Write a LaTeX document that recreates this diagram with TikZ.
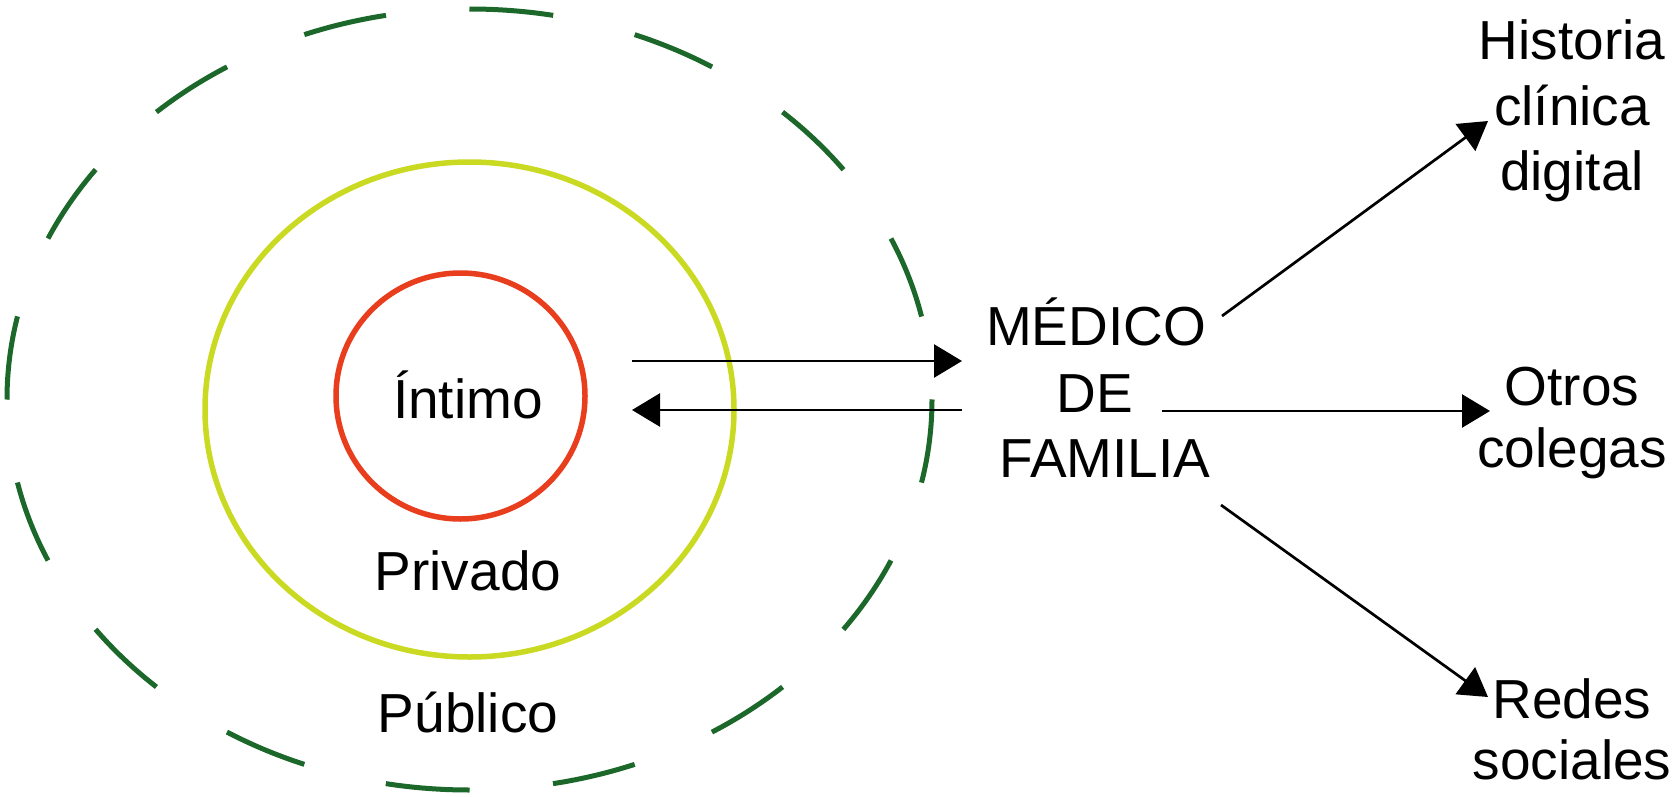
\documentclass[tikz,border=0pt]{standalone}
\usepackage{fontspec}
\setmainfont{Liberation Sans}
\usetikzlibrary{arrows.meta}
\definecolor{ringred}{RGB}{232,62,30}
\definecolor{ringyellow}{RGB}{202,218,34}
\definecolor{ringgreen}{RGB}{28,104,42}
\begin{document}
\begin{tikzpicture}[x=1pt,y=-1pt,
  lbl/.style={font=\fontsize{55}{64}\selectfont, inner sep=0pt, anchor=base},
  ring/.style={line width=5.5pt},
  conn/.style={line width=2.7pt, -{Triangle[length=28pt,width=33pt]}}]
\useasboundingbox (0,0) rectangle (1675,797);
% rings
\foreach \a in {0,90,180,270}
  \draw[line width=5pt, ringgreen, dash pattern=on 84pt off 83.8pt]
    (469.5,399.5) ++(\a:462.5 and 390.5)
    arc[start angle=\a, delta angle=90, x radius=462.5, y radius=390.5];
\draw[ring, ringyellow] (469.5,409.5) ellipse (264.5 and 247.5);
\draw[ring, ringred] (460.5,396) ellipse (124.5 and 123);
% labels
\node[lbl] (intimo) at (468,418) {Íntimo};
\node[lbl] (privado) at (468,590) {Privado};
\node[lbl] (publico) at (468,732) {Público};
\node[lbl] (med1) at (1096,345) {MÉDICO};
\node[lbl] (med2) at (1095,412) {DE};
\node[lbl] (med3) at (1105,477) {FAMILIA};
\node[lbl] (hist1) at (1572,60) {Historia};
\node[lbl] (hist2) at (1572,125) {clínica};
\node[lbl] (hist3) at (1572,190) {digital};
\node[lbl] (otros1) at (1572,405) {Otros};
\node[lbl] (otros2) at (1572,467) {colegas};
\node[lbl] (redes1) at (1572,718) {Redes};
\node[lbl] (redes2) at (1572,779) {sociales};
% connector ends
\coordinate (inA) at (632,361);
\coordinate (medA) at (962,361);
\coordinate (medB) at (962,410);
\coordinate (inB) at (632,410);
\coordinate (mUp) at (1222,316);
\coordinate (hTip) at (1488,121);
\coordinate (mMid) at (1162,411);
\coordinate (oTip) at (1490,411);
\coordinate (mDn) at (1221,505);
\coordinate (rTip) at (1488,697);
% connectors
\draw[conn] (inA) -- (medA);
\draw[conn] (medB) -- (inB);
\draw[conn] (mUp) -- (hTip);
\draw[conn] (mMid) -- (oTip);
\draw[conn] (mDn) -- (rTip);
\end{tikzpicture}
\end{document}
